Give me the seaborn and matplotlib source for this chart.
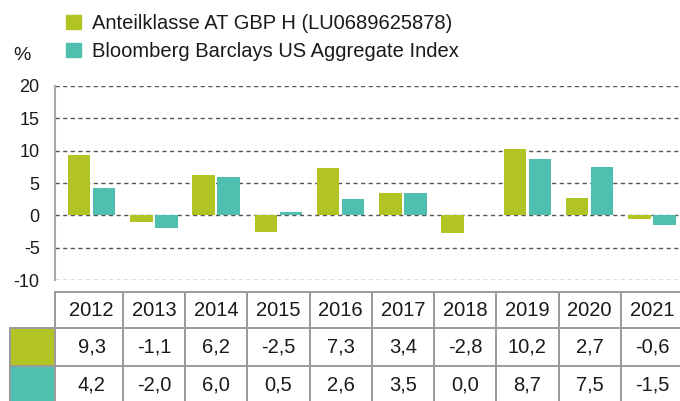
import matplotlib
matplotlib.use("Agg")
import matplotlib.pyplot as plt
import seaborn as sns
import pandas as pd
from matplotlib.patches import Rectangle

# Daten
jahre = ["2012", "2013", "2014", "2015", "2016", "2017", "2018", "2019", "2020", "2021"]
fonds = [9.3, -1.1, 6.2, -2.5, 7.3, 3.4, -2.8, 10.2, 2.7, -0.6]
index = [4.2, -2.0, 6.0, 0.5, 2.6, 3.5, 0.0, 8.7, 7.5, -1.5]
serien = ["Anteilklasse AT GBP H (LU0689625878)", "Bloomberg Barclays US Aggregate Index"]
y_ticks = [-10, -5, 0, 5, 10, 15, 20]

GRUEN = "#b2c423"
TUERKIS = "#4fbfaf"
TEXT = "#1a1a1a"
RAHMEN = "#9a9a9a"

sns.set_theme(style="white")
plt.rcParams["font.family"] = ["Liberation Sans", "DejaVu Sans"]

df = pd.DataFrame({
    "Jahr": jahre * 2,
    "Wert": fonds + index,
    "Serie": [serien[0]] * len(jahre) + [serien[1]] * len(jahre),
})

W, H = 680, 401
SPALTE = 62.25          # Breite einer Jahresspalte in Pixel
X0, X1 = 55, 683        # linke Achse / rechtes Ende
XLIM = (-0.5 - (60.5 - X0) / SPALTE, len(jahre) - 0.5)

fig = plt.figure(figsize=(W / 100, H / 100), dpi=100)

def px_ax(x0, y0, x1, y1):
    # Achse in Pixelkoordinaten (oben links = 0,0)
    return fig.add_axes([x0 / W, 1 - y1 / H, (x1 - x0) / W, (y1 - y0) / H])

ax = px_ax(X0, 86, X1, 280)
sns.barplot(data=df, x="Jahr", y="Wert", hue="Serie", palette=[GRUEN, TUERKIS],
            width=0.8, gap=0.1, saturation=1, linewidth=0, ax=ax, legend=False)
ax.set_xlim(*XLIM)
ax.set_ylim(-10, 20)
ax.set_yticks(y_ticks)
ax.set_yticklabels([str(t) for t in y_ticks])
ax.set_xticks([])
ax.set_xlabel("")
ax.set_ylabel("")
for t in y_ticks:
    ax.axhline(t, color="#555555", linestyle=(0, (3, 2.5)), linewidth=1, zorder=0)
for s in ["top", "right", "bottom"]:
    ax.spines[s].set_visible(False)
ax.spines["left"].set_color("#aaaaaa")
ax.spines["left"].set_linewidth(1.5)
ax.tick_params(axis="y", length=2, color="#555555", pad=9, labelsize=13, labelcolor=TEXT)

# Legende
handles = [Rectangle((0, 0), 1, 1, color=GRUEN), Rectangle((0, 0), 1, 1, color=TUERKIS)]
fig.legend(handles, serien, loc="upper left", bbox_to_anchor=(66 / W, 1 - 14 / H),
           frameon=False, fontsize=14.5, handlelength=0.75, handleheight=0.75,
           handletextpad=0.55, labelspacing=0.45, borderaxespad=0, borderpad=0,
           labelcolor=TEXT)
fig.text(13 / W, 1 - 55 / H, "%", fontsize=14, color=TEXT, va="center", ha="left")

# Tabelle
tab = px_ax(X0, 292, X1, 401)
tab.set_xlim(*XLIM)
tab.set_ylim(401, 292)
tab.axis("off")
zeilen = [(292, 328), (328, 366), (366, 404)]
lw = 1.4
# horizontale Linien
for y in [292, 328, 366]:
    tab.plot(list(XLIM), [y, y], color=RAHMEN, lw=lw, clip_on=False)
# vertikale Linien
tab.plot([XLIM[0], XLIM[0]], [292, 404], color=RAHMEN, lw=lw, clip_on=False)
for i in range(1, len(jahre)):
    tab.plot([i - 0.5, i - 0.5], [292, 404], color=RAHMEN, lw=lw, clip_on=False)
# Farbfelder
sw = 45 / SPALTE
for (y0, y1), farbe in zip(zeilen[1:], [GRUEN, TUERKIS]):
    tab.add_patch(Rectangle((XLIM[0] - sw, y0), sw, y1 - y0, facecolor=farbe,
                            edgecolor=RAHMEN, lw=lw, clip_on=False))

# Texte
def fmt(v):
    return f"{v:.1f}".replace(".", ",")

for i, j in enumerate(jahre):
    tab.text(i, 310.5, j, ha="center", va="center", fontsize=14.5, color=TEXT)
    tab.text(i, 347.5, fmt(fonds[i]), ha="center", va="center", fontsize=14.5, color=TEXT)
    tab.text(i, 385, fmt(index[i]), ha="center", va="center", fontsize=14.5, color=TEXT)

fig.savefig("out.png", dpi=100)
